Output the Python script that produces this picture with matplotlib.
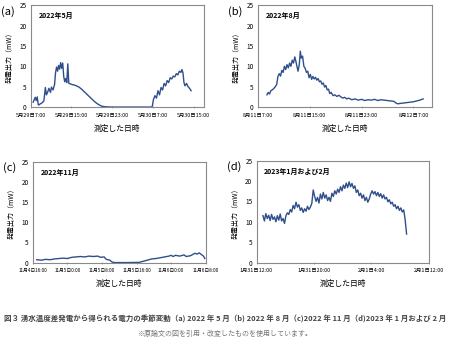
import matplotlib
matplotlib.use("Agg")
import matplotlib.pyplot as plt
import numpy as np

plt.rcParams['font.family'] = ['Noto Sans CJK JP', 'DejaVu Sans']

LINE_COLOR = '#2f4f8c'

# (a) 2022年5月  -- hours from 5/29 7:00
a_time = [0.5, 0.7, 0.9, 1.1, 1.3, 1.5, 1.6, 1.8, 2.2, 2.6, 2.9, 3.1, 3.3, 3.6, 3.9,
          4.1, 4.4, 4.7, 4.9, 5.1, 5.3, 5.5, 5.7, 5.9, 6.1, 6.3, 6.5, 6.7, 6.9, 7.1,
          7.3, 7.5, 7.8, 8.2, 8.6, 9.0, 9.5, 10.0, 10.5, 11.0, 11.5, 12.0, 12.5,
          13.0, 13.5, 14.0, 14.5, 15.0, 16.0, 18.0, 20.0, 22.0, 23.8,
          23.9, 24.1, 24.4, 24.7, 25.0, 25.3, 25.6, 25.9, 26.2, 26.5, 26.8, 27.1,
          27.4, 27.7, 28.0, 28.3, 28.6, 28.9, 29.2, 29.5, 29.7, 29.9, 30.1, 30.3,
          30.6, 30.9, 31.2, 31.5]
a_power = [1.2, 1.8, 2.4, 1.6, 2.5, 0.6, 0.5, 0.7, 1.0, 1.5, 4.8, 3.0, 3.5, 4.6, 3.6,
           4.9, 4.2, 5.5, 8.5, 9.8, 8.8, 10.2, 9.3, 10.9, 9.5, 10.8, 7.5, 6.2, 7.0, 6.0,
           10.6, 5.8, 5.7, 5.5, 5.4, 5.2, 4.9, 4.4, 3.8, 3.2, 2.6, 2.0, 1.4,
           0.9, 0.5, 0.2, 0.1, 0.05, 0.0, 0.0, 0.0, 0.0, 0.0,
           0.3, 1.8, 2.8, 2.2, 4.0, 3.0, 4.8, 4.2, 5.8, 5.2, 6.5, 6.0,
           7.2, 6.9, 7.6, 7.4, 8.2, 7.9, 8.8, 8.5, 9.2, 8.4, 6.0, 5.2,
           5.8, 5.0, 4.6, 4.0]
a_ticks = ['5月29日7:00', '5月29日15:00', '5月29日23:00', '5月30日7:00', '5月30日15:00']

# (b) 2022年8月  -- hours from 8/11 7:00
b_time = [1.4, 1.6, 1.8, 2.0, 2.3, 2.6, 2.9, 3.1, 3.3, 3.5, 3.7, 3.9, 4.1, 4.3, 4.5,
          4.7, 4.9, 5.1, 5.3, 5.5, 5.7, 5.9, 6.0, 6.2, 6.4, 6.55, 6.7, 6.9, 7.1, 7.3,
          7.5, 7.7, 7.9, 8.1, 8.3, 8.5, 8.7, 8.9, 9.1, 9.3, 9.5, 9.7, 9.9, 10.1,
          10.3, 10.5, 10.7, 10.9, 11.1, 11.3, 11.6, 11.9, 12.2, 12.5, 12.8, 13.1,
          13.4, 13.7, 14.0, 14.5, 15.0, 15.5, 16.0, 16.5, 17.0, 17.5, 18.0, 18.5,
          19.0, 19.5, 20.0, 20.5, 21.0, 21.3, 21.6, 22.0, 22.5, 23.0, 23.5, 24.0,
          24.5, 25.0, 25.5]
b_power = [3.0, 3.6, 3.2, 4.0, 4.3, 4.8, 5.5, 7.5, 8.2, 7.6, 9.0, 8.5, 10.0, 9.2, 10.4,
           9.6, 10.8, 10.0, 11.5, 10.8, 12.3, 11.0, 10.2, 8.8, 10.5, 13.7, 12.0, 12.5, 10.0, 9.5,
           8.5, 8.8, 7.2, 8.0, 6.8, 7.5, 6.9, 7.3, 6.6, 7.0, 6.2, 6.4, 5.6, 5.9,
           4.9, 5.3, 4.2, 4.4, 3.3, 3.6, 2.8, 3.0, 2.6, 2.9, 2.5, 2.2,
           2.4, 2.0, 2.2, 1.8, 2.0, 1.7, 1.9, 1.6, 1.8, 1.7, 1.9, 1.6,
           1.8, 1.7, 1.6, 1.5, 1.4, 1.0, 0.8, 0.9, 1.0, 1.1, 1.2, 1.3,
           1.5, 1.7, 2.0]
b_ticks = ['8月11日7:00', '8月11日15:00', '8月11日23:00', '8月12日7:00']

# (c) 2022年11月  -- hours from 11/4 16:00
c_time = [0.9, 2, 3, 4, 5, 6, 7, 8, 9, 10, 11, 12, 13, 14, 15, 15.7, 16.5, 17, 17.8,
          18.4, 19, 22, 24.6, 25.5, 26.5, 27.5, 28.5, 29.5, 30.5, 31.5, 32, 32.5, 33,
          34, 35, 35.5, 36, 36.5, 37, 37.5, 38, 38.5, 39, 39.5, 39.8]
c_power = [0.7, 0.6, 0.8, 0.7, 0.9, 1.0, 1.1, 1.0, 1.3, 1.4, 1.5, 1.4, 1.6, 1.5, 1.6, 1.3, 1.4, 0.8, 0.6,
           0.1, 0.0, 0.0, 0.05, 0.3, 0.6, 0.9, 1.0, 1.2, 1.4, 1.6, 1.8, 1.5, 1.8,
           1.6, 1.9, 1.5, 1.6, 1.7, 2.0, 2.3, 2.1, 2.4, 2.0, 1.6, 1.0]
c_ticks = ['11月4日16:00', '11月5日0:00', '11月5日8:00', '11月5日16:00', '11月6日0:00', '11月6日8:00']

# (d) 2023年1月および2月  -- hours from 1/31 12:00, sampled every 0.2 h
d_start = 0.9
d_step = 0.2
d_power = [11.5, 10.2, 12.0, 10.8, 11.6, 10.3, 11.8, 10.6, 11.2, 10.0, 11.5, 10.4, 11.9, 10.2,
           10.8, 9.6, 11.5, 12.2, 11.8, 13.0, 12.4, 14.0, 13.2, 14.8, 13.6, 14.2, 12.8, 13.4,
           12.3, 13.2, 12.6, 13.8, 13.0, 13.6, 14.5, 17.8, 16.2, 15.0, 16.0, 14.6, 16.8, 15.6,
           17.2, 15.8, 16.6, 15.2, 16.0, 15.0, 17.0, 16.2, 17.6, 16.8, 18.0, 17.2, 18.6, 17.6,
           19.0, 18.2, 19.5, 18.4, 19.8, 18.6, 19.4, 18.2, 18.8, 17.2, 17.8, 16.4, 17.0, 15.8,
           16.6, 15.2, 16.0, 14.8, 15.6, 16.8, 17.6, 16.8, 17.4, 16.4, 17.2, 16.2, 16.9, 15.8,
           16.6, 15.6, 16.0, 14.9, 15.4, 14.4, 14.8, 13.8, 14.2, 13.2, 13.8, 12.8, 13.4, 12.4,
           12.9, 10.5, 7.0]
d_time = d_start + d_step * np.arange(len(d_power))
d_ticks = ['1月31日12:00', '1月31日20:00', '2月1日4:00', '2月1日12:00']

fig = plt.figure(figsize=(4.5, 3.41), dpi=100)

panels = [
    ('(a)', '2022年5月', a_time, a_power, a_ticks, 34, 3.9, [0.068, 0.686, 0.385, 0.299]),
    ('(b)', '2022年8月', b_time, b_power, b_ticks, 26.8, 3.9, [0.573, 0.686, 0.386, 0.299]),
    ('(c)', '2022年11月', c_time, c_power, c_ticks, 40, 3.4, [0.073, 0.230, 0.384, 0.296]),
    ('(d)', '2023年1月および2月', d_time, d_power, d_ticks, 24, 3.9, [0.570, 0.230, 0.383, 0.299]),
]

for label, title, t, p, ticks, xmax, tfs, pos in panels:
    ax = fig.add_axes(pos)
    ax.plot(t, p, color=LINE_COLOR, lw=1.0)
    ax.set_xlim(0, xmax)
    ax.set_ylim(0, 25)
    ax.set_yticks([0, 5, 10, 15, 20, 25])
    ax.set_xticks(np.arange(len(ticks)) * 8)
    ax.set_xticklabels(ticks, fontsize=tfs)
    ax.tick_params(axis='y', labelsize=4.6, length=0, pad=3)
    ax.tick_params(axis='x', length=2, width=0.5, color='#888888', pad=3, direction='inout')
    for s in ax.spines.values():
        s.set_color('#8a8a8a')
        s.set_linewidth(0.8)
    ax.set_ylabel('発電出力（mW）', fontsize=5.0, labelpad=4)
    ax.set_xlabel('測定した日時', fontsize=5.6, labelpad=5)
    ax.text(0.045, 0.93, title, transform=ax.transAxes, fontsize=5.0,
            fontweight='bold', va='top', ha='left')
    bb = ax.get_position()
    fig.text(bb.x0 - 0.066, bb.y1 - 0.018, label, fontsize=8, ha='left', va='center')

fig.text(0.5, 0.066,
         '図３ 湧水温度差発電から得られる電力の季節変動（a) 2022 年 5 月（b) 2022 年 8 月（c)2022 年 11 月（d)2023 年 1 月および 2 月',
         fontsize=5.4, fontweight='bold', color='#444444', ha='center', va='center')
fig.text(0.5, 0.022, '※原論文の図を引用・改変したものを使用しています。',
         fontsize=5.0, color='#777777', ha='center', va='center')

fig.savefig('out.png', dpi=100)
